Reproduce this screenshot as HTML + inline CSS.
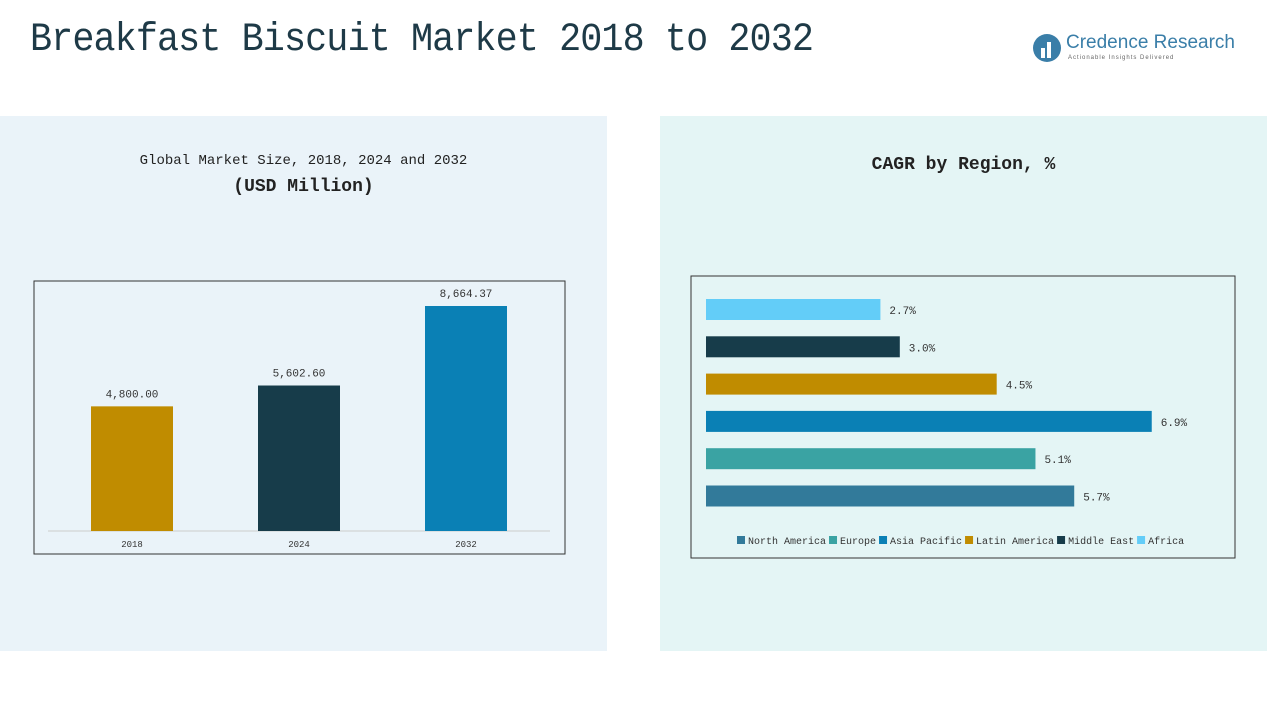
<!DOCTYPE html>
<html><head><meta charset="utf-8"><style>
body{margin:0;width:1267px;height:713px;background:#fff;position:relative;overflow:hidden;font-family:"Liberation Mono","Noto Serif CJK SC",monospace;}
.abs{position:absolute}
</style></head><body>
<div class="abs" style="left:0;top:116px;width:607px;height:535px;background:#eaf3f9"></div>
<div class="abs" style="left:660px;top:116px;width:607px;height:535px;background:#e4f5f5"></div>
<div class="abs" style="left:30px;top:18px;font-size:40px;color:#1e3a47;letter-spacing:-1px;transform:scaleX(0.92);transform-origin:left;white-space:nowrap">Breakfast Biscuit Market 2018 to 2032</div>
<div class="abs" style="left:1032px;top:32px;width:210px;height:32px;white-space:nowrap">
<svg width="32" height="32"><circle cx="15" cy="16" r="14" fill="#3a7ea8"/><rect x="9" y="16" width="4" height="10" fill="#fff"/><rect x="15" y="10" width="4" height="16" fill="#fff"/></svg>
<span class="abs" style="left:34px;top:0;font-family:'Liberation Sans',sans-serif;font-size:19px;color:#3a7ea8">Credence Research</span>
<span class="abs" style="left:36px;top:23px;font-family:'Liberation Sans',sans-serif;font-size:6px;color:#666;letter-spacing:1px">Actionable Insights Delivered</span>
</div>
<div class="abs" style="left:0;width:607px;text-align:center;top:153px;font-size:14px;color:#222">Global Market Size, 2018, 2024 and 2032</div>
<div class="abs" style="left:0;width:607px;text-align:center;top:177px;font-size:18px;color:#222;font-weight:bold">(USD Million)</div>
<div class="abs" style="left:660px;width:607px;text-align:center;top:155px;font-size:18px;color:#222;font-weight:bold">CAGR by Region, %</div>
<svg class="abs" style="left:0;top:0" width="1267" height="713" id="svg">
<rect x="34" y="281" width="531" height="273" fill="none" stroke="#333"/>
<line x1="48" y1="531" x2="550" y2="531" stroke="#ccc"/>
<rect x="691" y="276" width="544" height="282" fill="none" stroke="#333"/>
</svg>
<script>
const years=["2018","2024","2032"];
const sizes=[4800.00,5602.60,8664.37];
const sizeLabels=["4,800.00","5,602.60","8,664.37"];
const yearColors=["#c08c00","#173c4a","#0a80b5"];
const regions=["Africa","Middle East","Latin America","Asia Pacific","Europe","North America"];
const cagr=[2.7,3.0,4.5,6.9,5.1,5.7];
const cagrLabels=["2.7%","3.0%","4.5%","6.9%","5.1%","5.7%"];
const regionColors=["#63cdf8","#173c4a","#c08c00","#0a80b5","#3aa3a3","#327a9a"];
const legendOrder=["North America","Europe","Asia Pacific","Latin America","Middle East","Africa"];
const svg=document.getElementById('svg');const NS="http://www.w3.org/2000/svg";
function mk(t,a){const e=document.createElementNS(NS,t);for(const k in a)e.setAttribute(k,a[k]);svg.appendChild(e);return e;}
const yS=v=>531-v*225/8664.37;
const xB=i=>91+i*167;
years.forEach((y,i)=>{
 const r=mk('rect',{x:xB(i),y:yS(sizes[i]),width:82,height:531-yS(sizes[i]),fill:yearColors[i]});
 
 
 const t=mk('text',{x:xB(i)+41,y:yS(sizes[i])-9,'text-anchor':'middle','font-size':11,fill:'#333','font-family':'Liberation Mono,monospace'});t.textContent=sizeLabels[i];
 
 
 const x=mk('text',{x:xB(i)+41,y:547,'text-anchor':'middle','font-size':9,fill:'#333','font-family':'Liberation Mono,monospace'});x.textContent=y;
 
 
});
const xS=v=>706+v*64.6;
regions.forEach((r,i)=>{
 const y=299+i*37.3;
 const b=mk('rect',{x:706,y:y,width:xS(cagr[i])-706,height:21,fill:regionColors[i]});
 
 
 const t=mk('text',{x:xS(cagr[i])+9,y:y+15,'font-size':11,fill:'#333','font-family':'Liberation Mono,monospace'});t.textContent=cagrLabels[i];
 
 
});
let lx=737;
legendOrder.forEach(n=>{
 const c=regionColors[regions.indexOf(n)];
 const s=mk('rect',{x:lx,y:536,width:8,height:8,fill:c});
 
 
 const t=mk('text',{x:lx+11,y:544,'font-size':10,fill:'#333','font-family':'Liberation Mono,monospace'});t.textContent=n;
 
 
 lx+=11+t.getComputedTextLength()+3;
});
</script>
</body></html>
